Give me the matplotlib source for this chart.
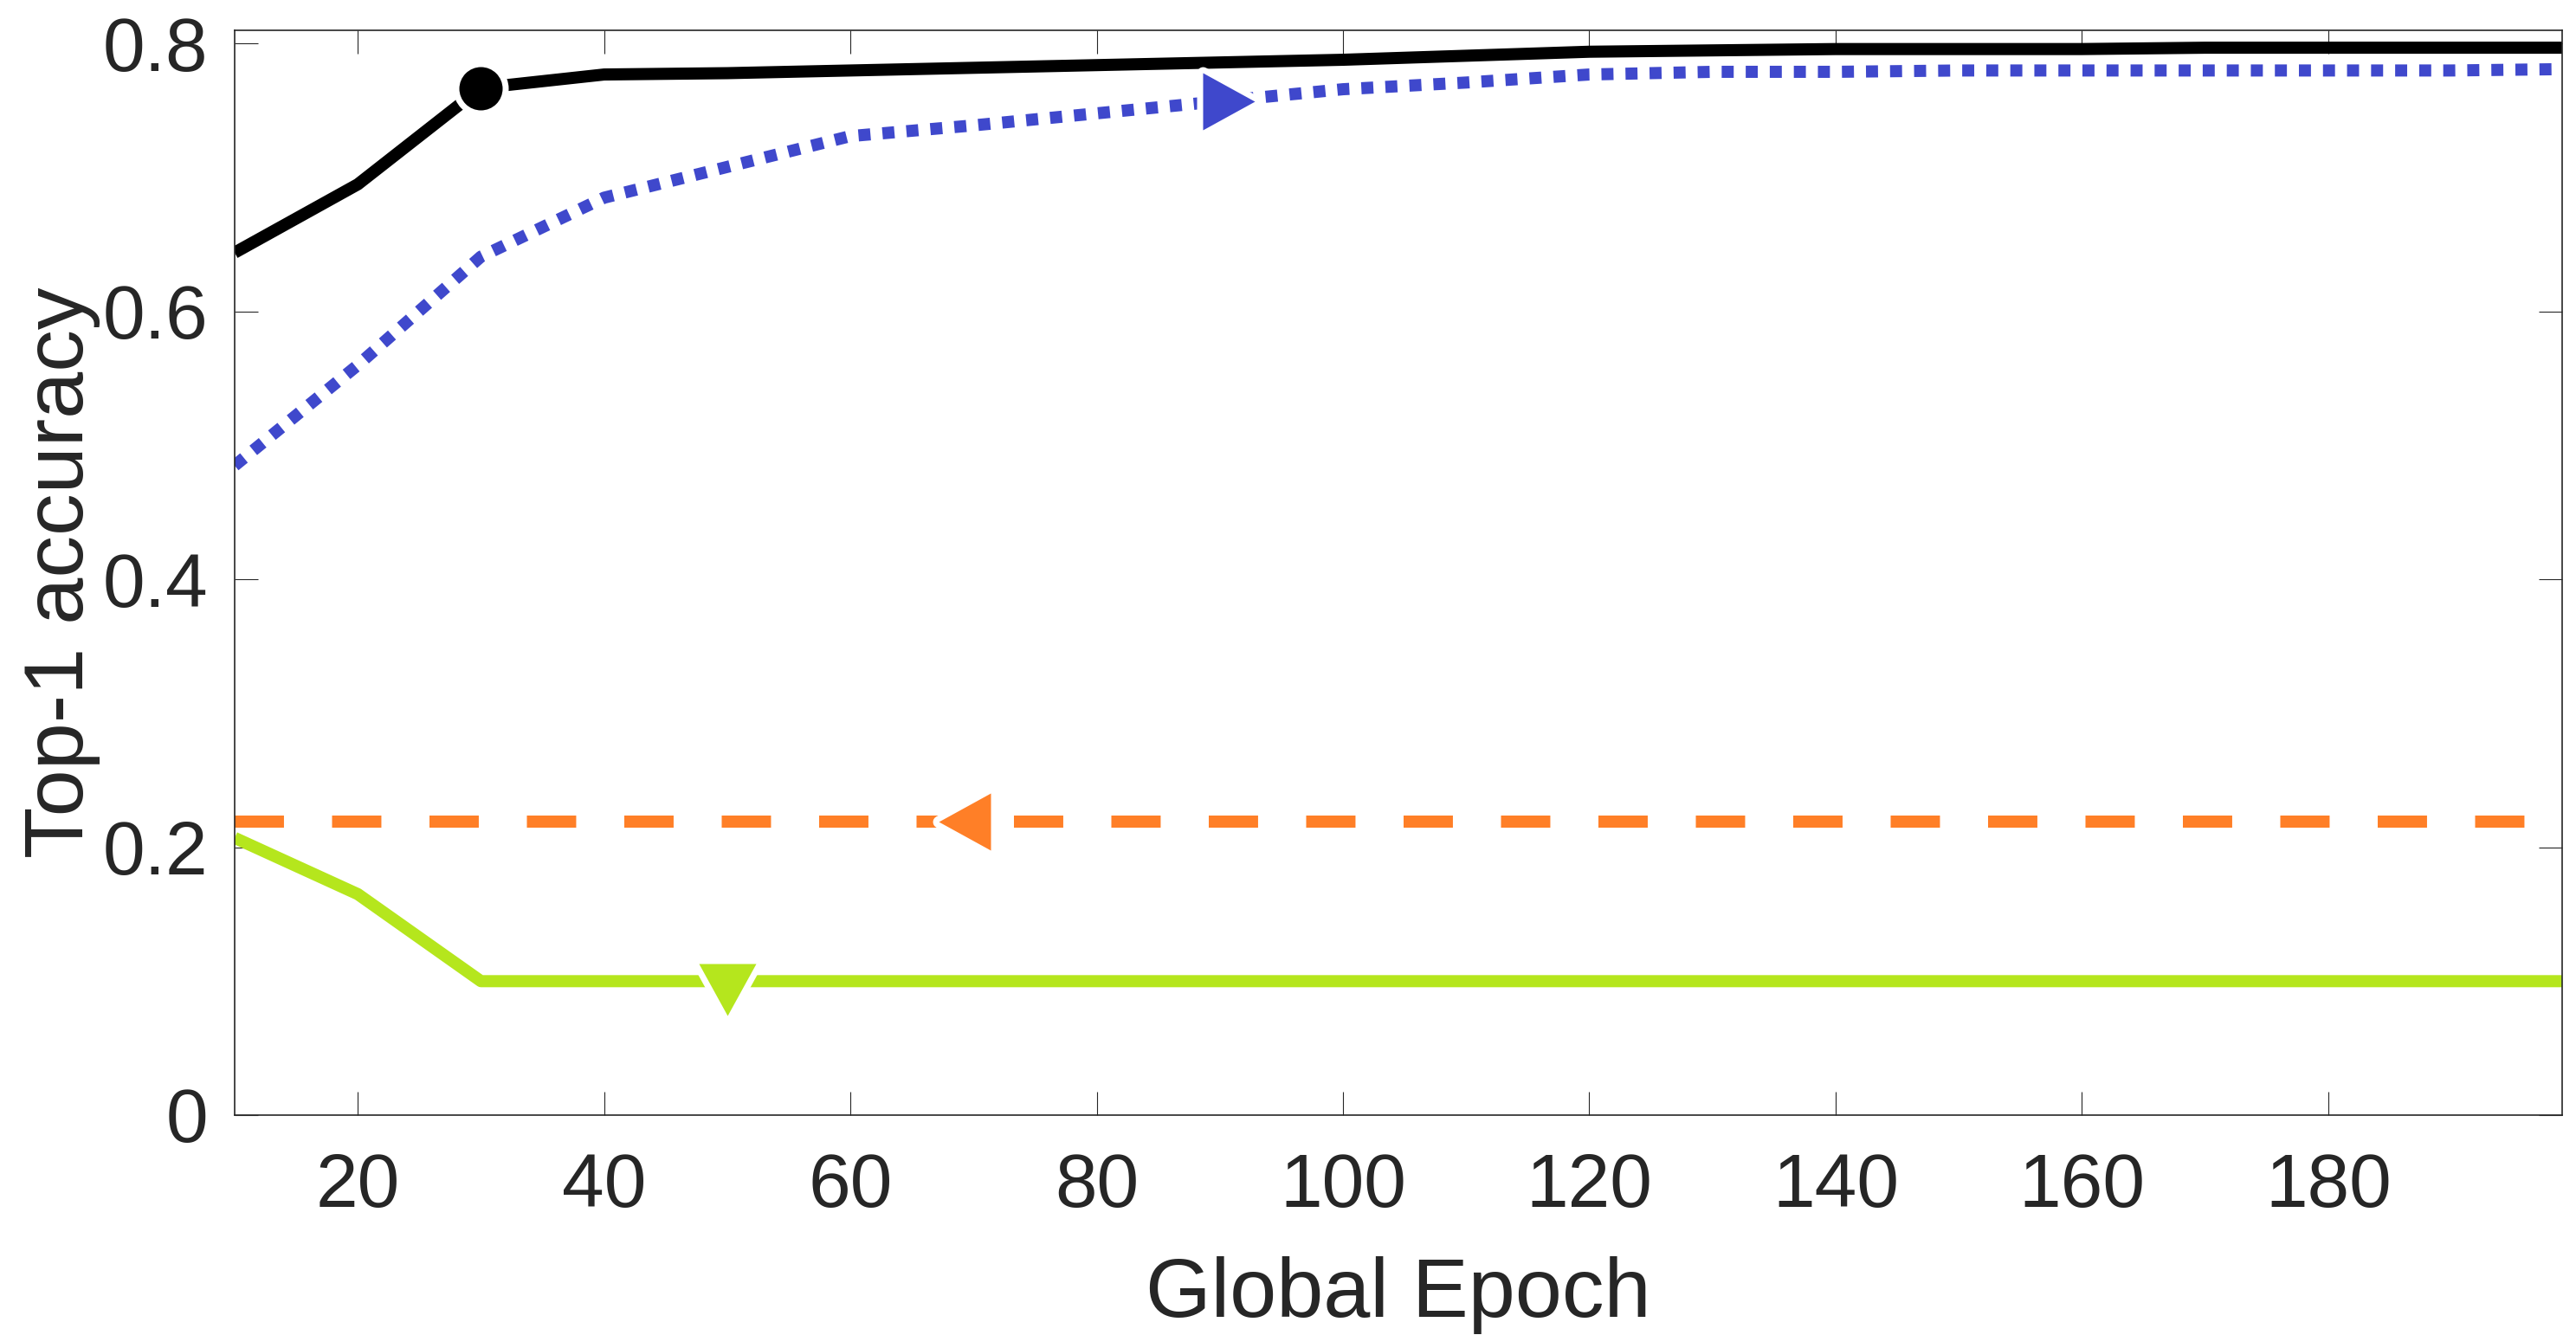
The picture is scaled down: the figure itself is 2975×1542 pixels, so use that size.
import matplotlib
matplotlib.use("Agg")
import matplotlib.pyplot as plt
from matplotlib.path import Path

# ---------------- data ----------------
epochs = [10, 20, 30, 40, 50, 60, 70, 80, 90, 100,
          110, 120, 130, 140, 150, 160, 170, 180, 190, 199]
acc_black = [0.644, 0.695, 0.767, 0.777, 0.778, 0.780, 0.782, 0.784, 0.786, 0.788,
             0.791, 0.794, 0.795, 0.796, 0.796, 0.796, 0.797, 0.797, 0.797, 0.797]
acc_blue = [0.485, 0.560, 0.641, 0.685, 0.708, 0.731, 0.739, 0.748, 0.757, 0.766,
            0.771, 0.777, 0.779, 0.779, 0.780, 0.780, 0.780, 0.780, 0.780, 0.781]
acc_orange = [0.219, 0.219, 0.219, 0.219, 0.219, 0.219, 0.219, 0.219, 0.219, 0.219,
              0.219, 0.219, 0.219, 0.219, 0.219, 0.219, 0.219, 0.219, 0.219, 0.219]
acc_green = [0.207, 0.165, 0.100, 0.100, 0.100, 0.100, 0.100, 0.100, 0.100, 0.100,
             0.100, 0.100, 0.100, 0.100, 0.100, 0.100, 0.100, 0.100, 0.100, 0.100]
marker_epoch_black = 30
marker_epoch_blue = 90
marker_epoch_orange = 70
marker_epoch_green = 50

xticks = [20, 40, 60, 80, 100, 120, 140, 160, 180]
yticks = [0, 0.2, 0.4, 0.6, 0.8]
ytick_labels = ["0", "0.2", "0.4", "0.6", "0.8"]

# ---------------- style ----------------
plt.rcParams["font.family"] = ["Liberation Sans", "DejaVu Sans"]
plt.rcParams["lines.scale_dashes"] = False
TXT = "#262626"
PX = 0.72  # points per pixel at dpi 100

fig = plt.figure(figsize=(29.75, 15.42), dpi=100)
ax = fig.add_axes([271 / 2975, 1 - 1288 / 1542, (2959 - 271) / 2975, (1288 - 35) / 1542])

LW = 14 * PX
HALO = 14 * PX


def tri(direction):
    h, b = 60.0, 66.0
    if direction == "down":
        v = [(0, -2 * h / 3), (-b / 2, h / 3), (b / 2, h / 3)]
    elif direction == "left":
        v = [(-2 * h / 3, 0), (h / 3, b / 2), (h / 3, -b / 2)]
    else:
        v = [(2 * h / 3, 0), (-h / 3, b / 2), (-h / 3, -b / 2)]
    v = v + [v[0]]
    return Path(v, [Path.MOVETO, Path.LINETO, Path.LINETO, Path.CLOSEPOLY])


TRI_MS = 80 * PX
CIRC_MS = 50 * PX


def draw(y, color, line_kw, marker, ms, mark_epoch):
    idx = [epochs.index(mark_epoch)]
    ax.plot(epochs, y, color=color, lw=LW, solid_capstyle="butt",
            dash_capstyle="butt", solid_joinstyle="round", zorder=2, **line_kw)
    ax.plot(epochs, y, ls="none", marker=marker, markevery=idx, ms=ms,
            mfc="white", mec="white", mew=HALO, zorder=3)
    ax.plot(epochs, y, ls="none", marker=marker, markevery=idx, ms=ms,
            mfc=color, mec="none", mew=0, zorder=4)


draw(acc_black, "#000000", dict(ls="-"), "o", CIRC_MS, marker_epoch_black)
draw(acc_blue, "#3F48CC", dict(ls=(0, (10, 10))), tri("right"), TRI_MS, marker_epoch_blue)
draw(acc_orange, "#FF7F27", dict(ls=(0, (41, 40))), tri("left"), TRI_MS, marker_epoch_orange)
draw(acc_green, "#B5E61D", dict(ls="-"), tri("down"), TRI_MS, marker_epoch_green)

ax.set_xlim(10, 199)
ax.set_ylim(0, 0.81)
ax.set_xticks(xticks)
ax.set_xticklabels([str(t) for t in xticks])
ax.set_yticks(yticks)
ax.set_yticklabels(ytick_labels)

ax.tick_params(axis="both", which="both", direction="in", top=True, right=True,
               length=27 * PX, width=0.8, color=TXT, labelsize=63, labelcolor=TXT)
ax.tick_params(axis="x", pad=31)
ax.tick_params(axis="y", pad=22)
for s in ax.spines.values():
    s.set_color(TXT)
    s.set_linewidth(1.2)

ax.set_xlabel("Global Epoch", fontsize=70, color=TXT, labelpad=28)
ax.set_ylabel("Top-1 accuracy", fontsize=70, color=TXT, labelpad=2)

fig.savefig("out.png", dpi=100, facecolor="white")
